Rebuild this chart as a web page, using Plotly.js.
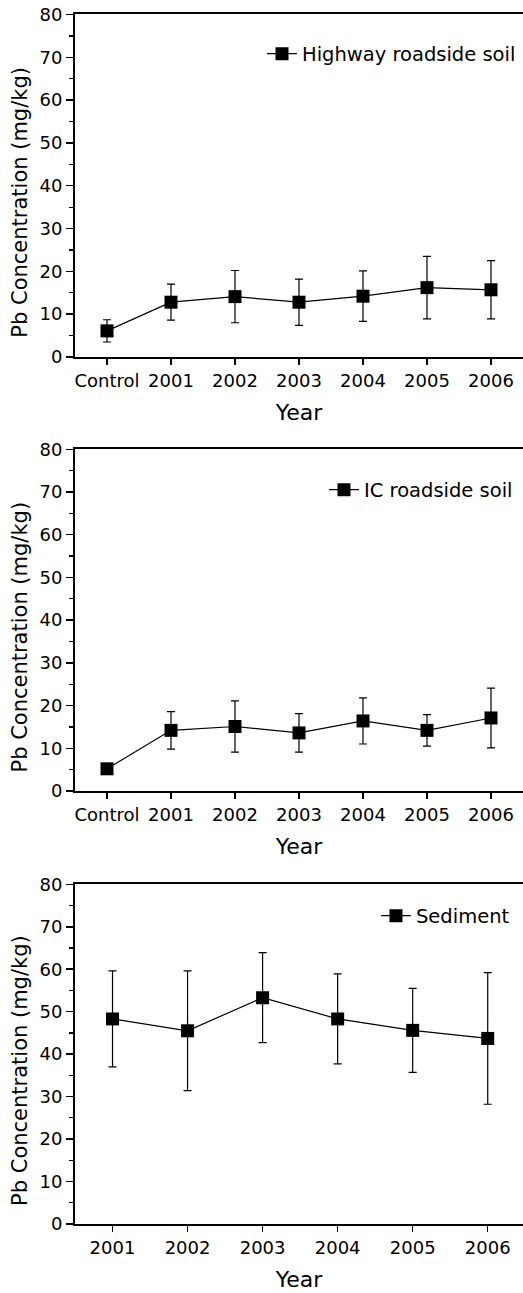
<!DOCTYPE html>
<html>
<head>
<meta charset="utf-8">
<script src="https://cdn.plot.ly/plotly-3.0.1.min.js"></script>
<style>
  html, body { margin: 0; padding: 0; background: #ffffff; }
  #chart { width: 523px; height: 1293px; }
</style>
</head>
<body>
<div id="chart"></div>
<script>
// Sampling periods
const soilCategories = ['Control', '2001', '2002', '2003', '2004', '2005', '2006'];
const sedimentYears = ['2001', '2002', '2003', '2004', '2005', '2006'];

// Pb concentration (mg/kg), mean and standard deviation
const highwayMean = [6.1, 12.8, 14.1, 12.8, 14.2, 16.2, 15.7];
const highwaySD   = [2.6, 4.2, 6.1, 5.4, 5.9, 7.3, 6.8];

const icMean = [5.2, 14.2, 15.1, 13.6, 16.4, 14.2, 17.1];
const icSD   = [1.0, 4.4, 6.0, 4.5, 5.4, 3.7, 7.0];

const sedimentMean = [48.3, 45.5, 53.3, 48.3, 45.6, 43.7];
const sedimentSD   = [11.3, 14.1, 10.6, 10.6, 9.9, 15.5];

const seriesNames = ['Highway roadside soil', 'IC roadside soil', 'Sediment'];
const yTicks = [0, 10, 20, 30, 40, 50, 60, 70, 80];

const FONT = 'DejaVu Sans, Liberation Sans, Arial, sans-serif';

function seriesTrace(x, y, sd, name, xa, ya, legend) {
  return {
    type: 'scatter',
    mode: 'lines+markers',
    x: x, y: y, name: name,
    xaxis: xa, yaxis: ya, legend: legend,
    line: { color: '#000000', width: 1.2 },
    marker: { symbol: 'square', size: 13, color: '#000000' },
    error_y: { type: 'data', array: sd, visible: true,
               color: '#000000', thickness: 1.2, width: 4 },
    showlegend: true
  };
}

const data = [
  seriesTrace(soilCategories, highwayMean, highwaySD, seriesNames[0], 'x', 'y', 'legend'),
  seriesTrace(soilCategories, icMean, icSD, seriesNames[1], 'x2', 'y2', 'legend2'),
  seriesTrace(sedimentYears, sedimentMean, sedimentSD, seriesNames[2], 'x3', 'y3', 'legend3')
];

function xAxis(anchor, range) {
  return {
    anchor: anchor, type: 'category', range: range, domain: [0, 1],
    showline: true, linecolor: '#000000', linewidth: 2, mirror: true,
    ticks: 'outside', ticklen: 6, tickwidth: 1.5, tickcolor: '#000000',
    showgrid: false, zeroline: false,
    tickfont: { family: FONT, size: 18, color: '#000000' },
    title: { text: 'Year', font: { family: FONT, size: 22, color: '#000000' }, standoff: 15 },
    fixedrange: true
  };
}

function yAxis(anchor, domain) {
  return {
    anchor: anchor, domain: domain, range: [0, 80],
    tickvals: yTicks, ticktext: yTicks.map(String),
    showline: true, linecolor: '#000000', linewidth: 2, mirror: false,
    ticks: 'outside', ticklen: 7, tickwidth: 1.5, tickcolor: '#000000',
    minor: { dtick: 5, tick0: 0, ticks: 'outside', ticklen: 4, tickwidth: 1.2, tickcolor: '#000000' },
    showgrid: false, zeroline: false,
    tickfont: { family: FONT, size: 18, color: '#000000' },
    fixedrange: true
  };
}

function legendBox(x, y) {
  return {
    x: x, y: y, xanchor: 'left', yanchor: 'middle',
    bgcolor: 'rgba(0,0,0,0)', borderwidth: 0,
    font: { family: FONT, size: 19.5, color: '#000000' }
  };
}

function yTitle(y) {
  return {
    text: 'Pb Concentration (mg/kg)', textangle: -90,
    xref: 'paper', yref: 'paper', x: -0.1228, y: y,
    xanchor: 'center', yanchor: 'middle', showarrow: false,
    font: { family: FONT, size: 21, color: '#000000' }
  };
}

const layout = {
  width: 523, height: 1293,
  margin: { l: 75, r: 0, t: 0, b: 0 },
  paper_bgcolor: '#ffffff', plot_bgcolor: '#ffffff',
  font: { family: FONT, color: '#000000' },
  xaxis: xAxis('y', [-0.5, 6.5]),
  yaxis: yAxis('x', [0.72390, 0.98879]),
  xaxis2: xAxis('y2', [-0.5, 6.5]),
  yaxis2: yAxis('x2', [0.38824, 0.65251]),
  xaxis3: xAxis('y3', [-0.5, 5.47]),
  yaxis3: yAxis('x3', [0.05336, 0.31609]),
  legend: legendBox(0.4174, 0.95824),
  legend2: legendBox(0.5558, 0.62104),
  legend3: legendBox(0.6718, 0.29157),
  annotations: [yTitle(0.8440), yTitle(0.5077), yTitle(0.1725)]
};

Plotly.newPlot('chart', data, layout, { staticPlot: true, displayModeBar: false });
</script>
</body>
</html>
